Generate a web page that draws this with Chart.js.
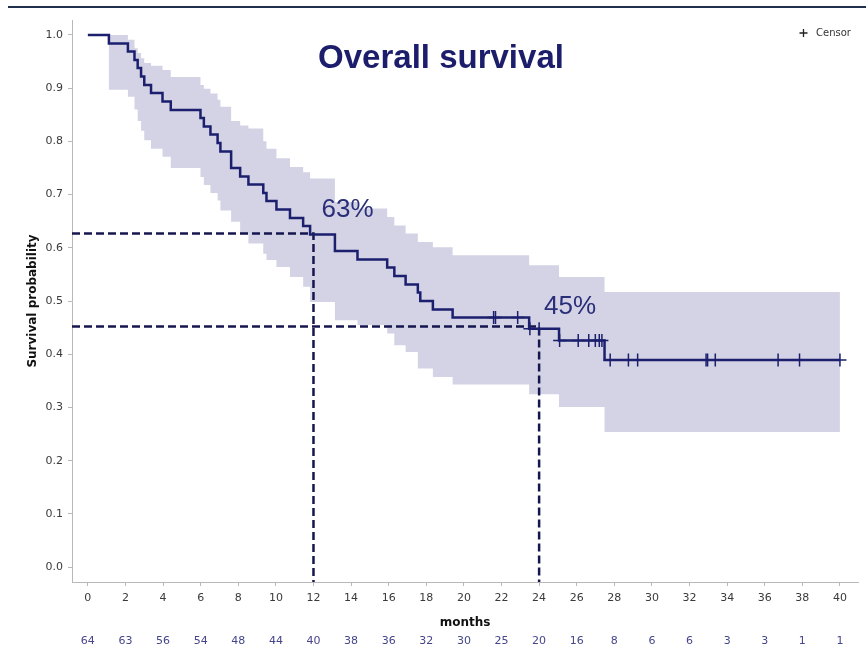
<!DOCTYPE html>
<html><head><meta charset="utf-8">
<script src="https://cdn.jsdelivr.net/npm/chart.js@4.4.1/dist/chart.umd.min.js"></script>
<style>html,body{margin:0;padding:0;background:#fff;}#wrap{position:relative;width:866px;height:657px;}</style>
</head><body><div id="wrap"><canvas id="c"></canvas></div>
<script>
// ---- data ----
const kmTime = [0,1.12,2.13,2.48,2.65,2.83,3.00,3.36,3.97,4.41,5.99,6.17,6.52,6.90,7.05,7.62,8.10,8.54,9.33,9.50,10.03,10.75,11.45,11.82,13.14,14.34,15.92,16.30,16.90,17.55,17.68,18.35,19.40,23.47,25.06,27.48,40.00];
const kmSurv = [1.000,0.984,0.969,0.953,0.938,0.922,0.906,0.891,0.875,0.859,0.844,0.828,0.813,0.797,0.781,0.750,0.734,0.719,0.703,0.688,0.672,0.656,0.641,0.625,0.594,0.578,0.563,0.547,0.531,0.516,0.500,0.484,0.469,0.448,0.426,0.389,0.389];
const ciUpper = [1.000,1.000,0.991,0.975,0.966,0.956,0.947,0.942,0.934,0.921,0.906,0.899,0.890,0.878,0.865,0.838,0.830,0.824,0.800,0.786,0.768,0.752,0.742,0.730,0.686,0.674,0.658,0.642,0.627,0.611,0.611,0.601,0.586,0.567,0.545,0.517,0.517];
const ciLower = [1.000,0.897,0.884,0.860,0.838,0.820,0.802,0.786,0.771,0.750,0.733,0.718,0.703,0.689,0.670,0.649,0.627,0.608,0.589,0.577,0.564,0.545,0.527,0.498,0.464,0.455,0.439,0.417,0.404,0.373,0.373,0.357,0.343,0.325,0.301,0.254,0.254];
const censorTime = [21.58,21.68,22.86,23.51,24.00,25.09,26.08,26.64,26.99,27.20,27.34,27.78,28.75,29.24,32.88,32.96,33.37,36.71,37.85,40.00];
const censorSurv = [0.469,0.469,0.469,0.448,0.448,0.426,0.426,0.426,0.426,0.426,0.426,0.389,0.389,0.389,0.389,0.389,0.389,0.389,0.389,0.389];
const xTicks = [0,2,4,6,8,10,12,14,16,18,20,22,24,26,28,30,32,34,36,38,40];
const yTicks = [0,0.1,0.2,0.3,0.4,0.5,0.6,0.7,0.8,0.9,1.0];
const atRisk = [64,63,56,54,48,44,40,38,36,32,30,25,20,16,8,6,6,3,3,1,1];
const refTime = [12,24];
const refSurv = [0.627,0.452];
const refLabels = ['63%','45%'];
const xMin = -0.843, xMax = 40.96, yMin = -0.028, yMax = 1.028;

// ---- styles ----
const NAVY = '#1b1f6e';
const pts = (xs, ys) => xs.map((x,i)=>({x:x, y:ys[i]}));

const datasets = [];
datasets.push({label:'Survival', data: pts(kmTime, kmSurv), stepped:true, borderColor:NAVY, borderWidth:2.5, pointRadius:0, fill:false});
datasets.push({label:'Censor', data: pts(censorTime, censorSurv), showLine:false, pointStyle:'cross', pointRadius:6.5, borderWidth:1.5, pointBorderWidth:1.5, borderColor:NAVY, backgroundColor:NAVY});
refTime.forEach((t,i)=>{
  datasets.push({label:'ref'+i, data:[{x:xMin,y:refSurv[i]},{x:t,y:refSurv[i]},{x:t,y:yMin}], borderColor:'#16164f', borderWidth:2.5, borderDash:[8,4], pointRadius:0, fill:false});
});
datasets.push({label:'lower', data: pts(kmTime, ciLower), stepped:true, borderColor:'rgba(0,0,0,0)', borderWidth:1, pointRadius:0, fill:false});
datasets.push({label:'upper', data: pts(kmTime, ciUpper), stepped:true, borderColor:'rgba(0,0,0,0)', borderWidth:1, pointRadius:0, fill:'-1', backgroundColor:'#d3d3e5'});

const deco = {
  id:'deco',
  beforeDraw(chart){
    const ctx = chart.ctx;
    ctx.save();
    ctx.fillStyle = '#fff';
    ctx.fillRect(0,0,chart.width,chart.height);
    ctx.strokeStyle = '#22304f';
    ctx.lineWidth = 2;
    ctx.beginPath(); ctx.moveTo(8,7); ctx.lineTo(chart.width,7); ctx.stroke();
    ctx.restore();
  },
  afterDraw(chart){
    const ctx = chart.ctx, xs = chart.scales.x, ys = chart.scales.y;
    ctx.save();
    // title
    ctx.fillStyle = '#1c1d6b';
    ctx.font = 'bold 33px "Liberation Sans", Arial, sans-serif';
    ctx.textAlign = 'center'; ctx.textBaseline = 'alphabetic';
    ctx.fillText('Overall survival', 441, 68);
    // percentage annotations
    ctx.fillStyle = '#2a2e78';
    ctx.font = '26px "Liberation Sans", Arial, sans-serif';
    ctx.textAlign = 'left';
    refLabels.forEach((lab,i)=>{
      ctx.fillText(lab, xs.getPixelForValue(refTime[i]) + (i===0?8:5), ys.getPixelForValue(refSurv[i]) - (i===0?16:13));
    });
    // numbers at risk
    ctx.fillStyle = '#45458c';
    ctx.font = '11px "DejaVu Sans", sans-serif';
    ctx.textAlign = 'center'; ctx.textBaseline = 'middle';
    xTicks.forEach((t,i)=>{ ctx.fillText(String(atRisk[i]), xs.getPixelForValue(t), 641); });
    // legend
    ctx.strokeStyle = '#222';
    ctx.lineWidth = 1.3;
    ctx.beginPath();
    ctx.moveTo(799.5,33); ctx.lineTo(807.5,33);
    ctx.moveTo(803.5,29); ctx.lineTo(803.5,37);
    ctx.stroke();
    ctx.fillStyle = '#333';
    ctx.font = '10px "DejaVu Sans", sans-serif';
    ctx.textAlign = 'left'; ctx.textBaseline = 'middle';
    ctx.fillText('Censor', 816, 33);
    ctx.restore();
  }
};

new Chart(document.getElementById('c'), {
  type:'line',
  data:{datasets:datasets},
  options:{
    responsive:true, maintainAspectRatio:false, animation:false, events:[],
    layout:{padding:{top:20,right:1,left:0,bottom:0}},
    plugins:{
      tooltip:{enabled:false},
      title:{display:false},
      legend:{display:false}
    },
    scales:{
      x:{type:'linear', min:xMin, max:xMax,
        afterBuildTicks:(s)=>{ s.ticks = xTicks.map(v=>({value:v})); },
        afterFit:(s)=>{ s.height = 75; },
        ticks:{autoSkip:false, maxRotation:0, color:'#3a3a3a', padding:6, font:{family:'DejaVu Sans', size:11}, callback:(v)=>String(v)},
        grid:{drawOnChartArea:false, drawTicks:true, tickLength:4, color:'#b8b8b8'},
        border:{display:true, color:'#b8b8b8', width:1},
        title:{display:true, text:'months', color:'#111', font:{family:'DejaVu Sans', size:12, weight:'bold'}, padding:{top:0,bottom:27}}
      },
      y:{type:'linear', min:yMin, max:yMax,
        afterBuildTicks:(s)=>{ s.ticks = yTicks.map(v=>({value:v})); },
        afterFit:(s)=>{ s.width = 72; },
        ticks:{color:'#3a3a3a', padding:5, font:{family:'DejaVu Sans', size:11}, callback:(v)=>Number(v).toFixed(1)},
        grid:{drawOnChartArea:false, drawTicks:true, tickLength:4, color:'#b8b8b8'},
        border:{display:true, color:'#b8b8b8', width:1},
        title:{display:true, text:'Survival probability', color:'#111', font:{family:'DejaVu Sans', size:12, weight:'bold'}, padding:{top:26,bottom:0}}
      }
    }
  },
  plugins:[deco]
});
</script></body></html>
